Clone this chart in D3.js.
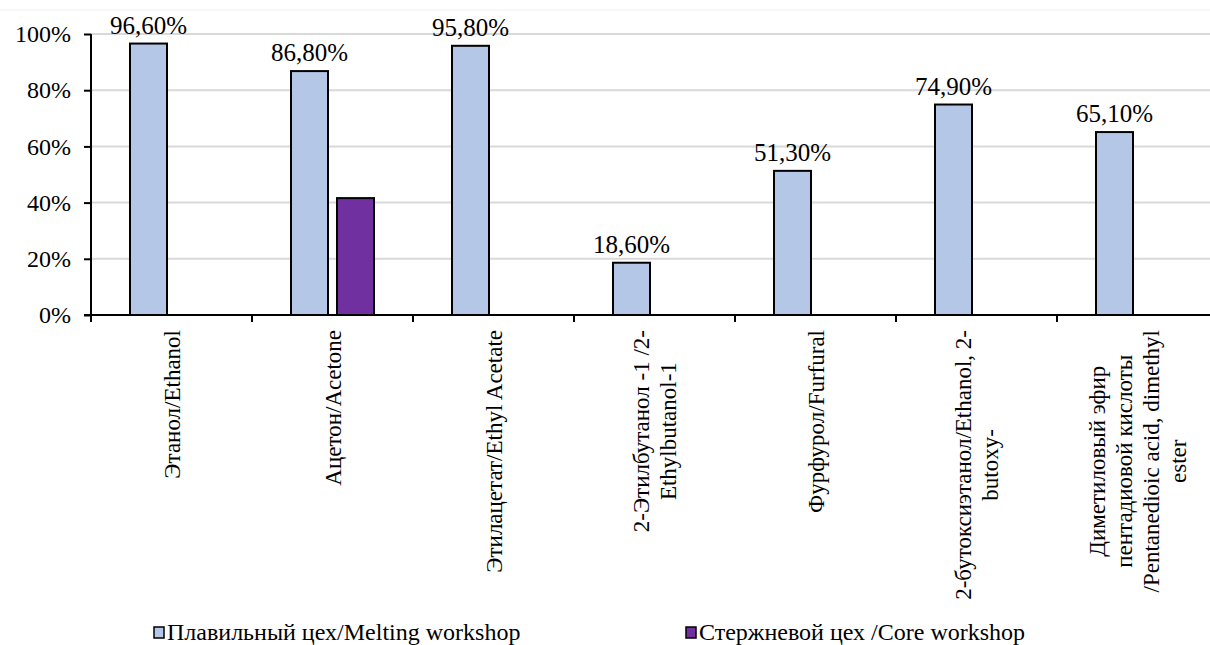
<!DOCTYPE html>
<html>
<head>
<meta charset="utf-8">
<script src="https://cdn.jsdelivr.net/npm/d3@7"></script>
<style>
  html, body { margin: 0; padding: 0; background: #fff; }
  svg { display: block; }
</style>
</head>
<body>
<svg id="chart" width="1210" height="645" font-family="Liberation Serif, Times New Roman, serif"></svg>
<script>
// Substances (each label split into the lines it is printed on)
const categories = [
  ["Этанол/Ethanol"],
  ["Ацетон/Acetone"],
  ["Этилацетат/Ethyl Acetate"],
  ["2-Этилбутанол -1 /2-", "Ethylbutanol-1"],
  ["Фурфурол/Furfural"],
  ["2-бутоксиэтанол/Ethanol, 2-", "butoxy-"],
  ["Диметиловый эфир", "пентадиовой кислоты", "/Pentanedioic acid, dimethyl", "ester"]
];
const seriesNames = ["Плавильный цех/Melting workshop", "Стержневой цех /Core workshop"];
const meltingValues = [96.6, 86.8, 95.8, 18.6, 51.3, 74.9, 65.1];
const coreValues = [null, 41.6, null, null, null, null, null];
const yTicks = [0, 20, 40, 60, 80, 100];
const seriesColors = ["#b4c7e7", "#7030a0"];

const FONT = "Liberation Serif";
const svg = d3.select("#chart");

const plotLeft = 91, plotTop = 34, plotBottom = 315;
const bandW = 161;
const ids = categories.map((_, i) => i);

const x = d3.scaleBand().domain(ids).range([plotLeft, plotLeft + bandW * ids.length]).padding(0);
const x1 = d3.scaleBand().domain([0, 1])
  .range([bandW / 2 - 46, bandW / 2 + 46])
  .paddingInner(9 / 46).paddingOuter(4.5 / 46);
const y = d3.scaleLinear().domain([0, 100]).range([plotBottom, plotTop]);

// faint outer border line
svg.append("line").attr("x1", 0).attr("x2", 1210).attr("y1", 10).attr("y2", 10)
  .attr("stroke", "#efefef").attr("stroke-width", 1);

// horizontal gridlines
svg.append("g").selectAll("line").data(yTicks.filter(t => t > 0)).join("line")
  .attr("x1", plotLeft).attr("x2", 1210)
  .attr("y1", d => y(d)).attr("y2", d => y(d))
  .attr("stroke", "#d9d9d9").attr("stroke-width", 2);

// bars
const rows = ids.map(i => ({ i, vals: [meltingValues[i], coreValues[i]] }));
const groups = svg.append("g").selectAll("g").data(rows).join("g")
  .attr("transform", d => `translate(${x(d.i)},0)`);

groups.selectAll("rect")
  .data(d => d.vals.map((v, s) => ({ v, s })).filter(e => e.v != null))
  .join("rect")
  .attr("x", d => x1(d.s))
  .attr("width", x1.bandwidth())
  .attr("y", d => y(d.v))
  .attr("height", d => y(0) - y(d.v))
  .attr("fill", d => seriesColors[d.s])
  .attr("stroke", "#000").attr("stroke-width", 2);

// value labels for the melting workshop series
const fmt = v => d3.format(".2f")(v).replace(".", ",") + "%";
groups.filter(d => d.vals[0] != null).append("text")
  .attr("x", x1(0) + x1.bandwidth() / 2)
  .attr("y", d => y(d.vals[0]) - 10)
  .attr("text-anchor", "middle")
  .attr("font-family", FONT)
  .attr("font-size", 25)
  .text(d => fmt(d.vals[0]));

// y axis
const yAxis = d3.axisLeft(y).tickValues(yTicks).tickSize(7).tickPadding(13)
  .tickFormat(d => d + "%");
const gy = svg.append("g").attr("transform", `translate(${plotLeft},0)`).call(yAxis);
gy.attr("font-family", FONT);
gy.select(".domain").attr("stroke", "#000").attr("stroke-width", 2)
  .attr("d", `M0,${plotBottom}V${plotTop}`);
gy.selectAll(".tick line").attr("stroke", "#000").attr("stroke-width", 2);
gy.selectAll(".tick text").attr("font-size", 24)
  .attr("font-family", FONT).attr("fill", "#000");

// x axis line with category boundary ticks
svg.append("line").attr("x1", plotLeft - 7).attr("x2", 1210)
  .attr("y1", plotBottom).attr("y2", plotBottom)
  .attr("stroke", "#000").attr("stroke-width", 2);
svg.append("g").selectAll("line").data(d3.range(ids.length + 1)).join("line")
  .attr("x1", d => plotLeft + d * bandW).attr("x2", d => plotLeft + d * bandW)
  .attr("y1", plotBottom).attr("y2", plotBottom + 7)
  .attr("stroke", "#000").attr("stroke-width", 2);

// rotated category labels, lines centred on each other, block end near the axis
const lineH = 27;
categories.forEach((lines, i) => {
  const cx = x(i) + bandW / 2;
  const g = svg.append("g");
  const texts = lines.map(ln => g.append("text")
    .attr("font-family", FONT)
    .attr("font-size", 23)
    .attr("text-anchor", "middle")
    .text(ln));
  const maxLen = d3.max(texts, t => t.node().getComputedTextLength());
  const cy = 330 + maxLen / 2;
  const n = lines.length;
  texts.forEach((t, k) => {
    const off = (k - (n - 1) / 2) * lineH;
    // baseline sits to the right of the glyphs after rotation
    t.attr("transform", `translate(${cx + off + 8},${cy}) rotate(-90)`);
  });
});

// legend
const legendItems = [{ x: 154, s: 0 }, { x: 686, s: 1 }];
const lg = svg.append("g").selectAll("g").data(legendItems).join("g")
  .attr("transform", d => `translate(${d.x},627)`);
lg.append("rect").attr("width", 10).attr("height", 11)
  .attr("fill", d => seriesColors[d.s]).attr("stroke", "#000").attr("stroke-width", 1.5);
lg.append("text").attr("x", 13).attr("y", 13).attr("font-size", 24)
  .attr("font-family", FONT)
  .text(d => seriesNames[d.s]);
</script>
</body>
</html>
